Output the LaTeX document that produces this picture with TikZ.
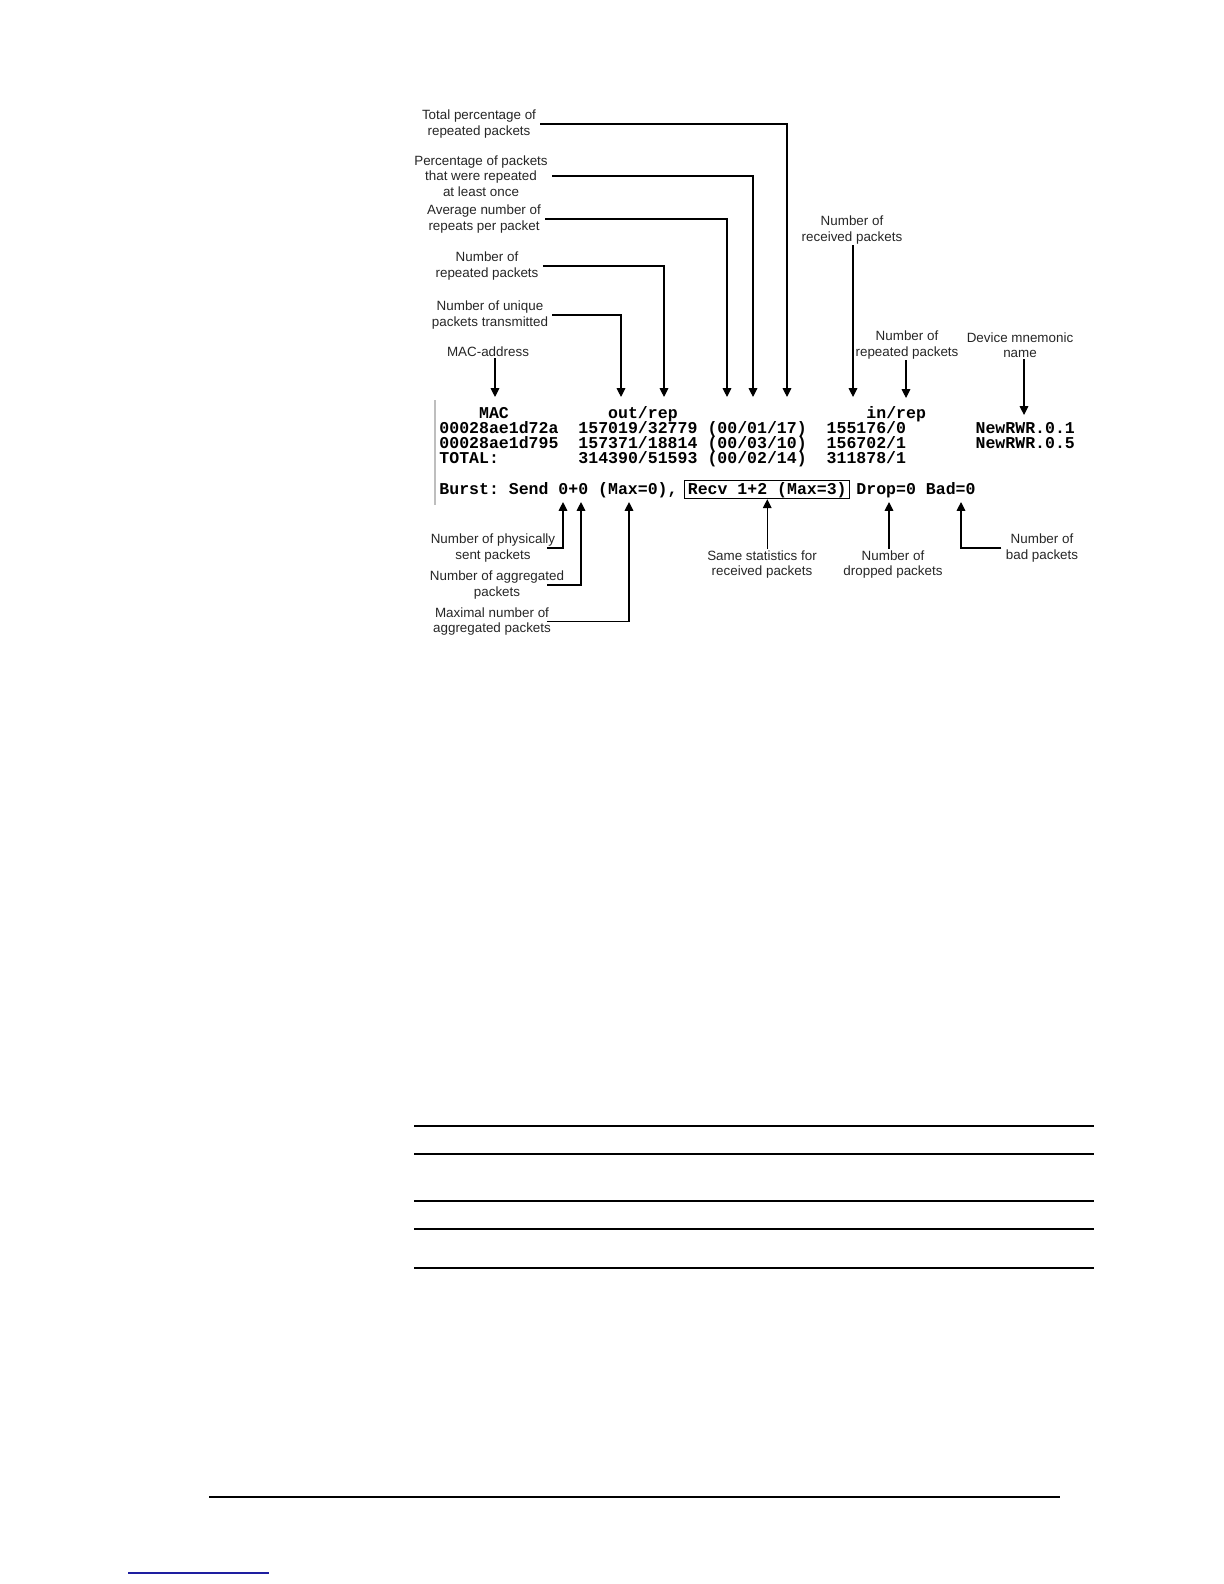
\documentclass[tikz,border=0pt]{standalone}
\usepackage{fontspec}
\setmainfont{Liberation Sans}
\newfontfamily\confont{Liberation Mono}
\usetikzlibrary{arrows.meta}
\definecolor{termgray}{RGB}{190,190,190}
\definecolor{linkblue}{RGB}{30,30,160}
\frenchspacing

\begin{document}
\begin{tikzpicture}[x=0.5pt, y=-0.5pt,
  lbl/.style={align=center, inner xsep=2pt, inner ysep=0.5pt, text=black!85,
              font=\fontsize{6.7}{7.75}\selectfont},
  con/.style={anchor=base west, inner sep=0pt,
              font=\confont\bfseries\fontsize{8.27}{9}\selectfont},
  arr/.style={-{Triangle[width=4.3pt,length=4.4pt]}, line width=0.6pt}
]
\useasboundingbox (0,0) rectangle (1224,1584);

% ── console output ─────────────
\draw[termgray, line width=0.6pt] (435,400) -- (435,505);
\node[con] (hMac) at ({439+4*9.93},418) {MAC};
\node[con] (hOut) at ({439+17*9.93},418) {out/rep};
\node[con] (hIn)  at ({439+43*9.93},418) {in/rep};

\node[con] (mac1) at (439,433) {00028ae1d72a};
\node[con] (out1) at ({439+14*9.93},433) {157019/32779};
\node[con] (pct1) at ({439+27*9.93},433) {(00/01/17)};
\node[con] (in1)  at ({439+39*9.93},433) {155176/0};
\node[con] (dev1) at ({439+54*9.93},433) {NewRWR.0.1};

\node[con] (mac2) at (439,448) {00028ae1d795};
\node[con] (out2) at ({439+14*9.93},448) {157371/18814};
\node[con] (pct2) at ({439+27*9.93},448) {(00/03/10)};
\node[con] (in2)  at ({439+39*9.93},448) {156702/1};
\node[con] (dev2) at ({439+54*9.93},448) {NewRWR.0.5};

\node[con] (tot3) at (439,463) {TOTAL:};
\node[con] (out3) at ({439+14*9.93},463) {314390/51593};
\node[con] (pct3) at ({439+27*9.93},463) {(00/02/14)};
\node[con] (in3)  at ({439+39*9.93},463) {311878/1};

\node[con] (send) at (439,494) {Burst: Send 0+0 (Max=0),};
\node[con, draw, line width=0.6pt, inner xsep=1.5pt, inner ysep=0.6pt] (recv)
  at ({439+25*9.93-3},494) {Recv 1+2 (Max=3)};
\node[con] (dropbad) at ({439+42*9.93},494) {Drop=0 Bad=0};

% ── labels above ─────────────
\node[lbl] (tot)  at (479,124) {Total percentage of\\repeated packets};
\node[lbl] (pct)  at (481,176) {Percentage of packets\\that were repeated\\at least once};
\node[lbl] (avg)  at (484,219) {Average number of\\repeats per packet};
\node[lbl] (nrep) at (487,266) {Number of\\repeated packets};
\node[lbl] (uniq) at (490,315) {Number of unique\\packets transmitted};
\node[lbl] (mac)  at (488,352) {MAC-address};
\node[lbl] (rec)  at (852,230) {Number of\\received packets};
\node[lbl] (rrep) at (907,345) {Number of\\repeated packets};
\node[lbl] (dev)  at (1020,345) {Device mnemonic\\name};

\coordinate (tMac)  at (495,397);
\coordinate (tUniq) at (621,397);
\coordinate (tNrep) at (664,397);
\coordinate (tAvg)  at (727,397);
\coordinate (tPct)  at (753,397);
\coordinate (tTot)  at (787,397);
\coordinate (tRec)  at (853,397);
\coordinate (tRrep) at (906,398);
\coordinate (tDev)  at (1024,415);

\draw[arr] (tot.east) -| (tTot);
\draw[arr] (pct.east) -| (tPct);
\draw[arr] (avg.east) -| (tAvg);
\draw[arr] (nrep.east) -| (tNrep);
\draw[arr] (uniq.east) -| (tUniq);
\draw[arr] (mac.south -| tMac) -- (tMac);
\draw[arr] (rec.south -| tRec) -- (tRec);
\draw[arr] (rrep.south -| tRrep) -- (tRrep);
\draw[arr] (dev.south -| tDev) -- (tDev);

% ── labels below ─────────────
\node[lbl] (phys) at (493,548) {Number of physically\\sent packets};
\node[lbl] (agg)  at (497,585) {Number of aggregated\\packets};
\node[lbl] (maxl) at (492,621.5) {Maximal number of\\aggregated packets};
\node[lbl] (same) at (762,564.5) {Same statistics for\\received packets};
\node[lbl] (drop) at (893,564.5) {Number of\\dropped packets};
\node[lbl] (bad)  at (1042,548) {Number of\\bad packets};

\coordinate (bx)    at (547,0);
\coordinate (tPhys) at (563,502);
\coordinate (tAgg)  at (581,502);
\coordinate (tMax)  at (629,502);
\coordinate (tDrop) at (889,502);
\coordinate (tBad)  at (961,502);

\draw[arr] (phys.east -| bx) -| (tPhys);
\draw[arr] (agg.east -| bx) -| (tAgg);
\draw[arr] (maxl.east -| bx) -| (tMax);
\draw[arr] (same.north -| recv.south) -- (recv.south);
\draw[arr] (drop.north -| tDrop) -- (tDrop);
\draw[arr] (bad.west) -| (tBad);

% ── table rules and footer ─────────────
\foreach \yy/\lw in {1126/1pt, 1154/0.6pt, 1201/1pt, 1229/0.6pt, 1268/0.6pt}
  \draw[line width=\lw] (414,\yy) -- (1094,\yy);
\draw[line width=0.6pt] (209,1497) -- (1060,1497);
\draw[linkblue, line width=0.6pt] (128,1573) -- (269,1573);
\end{tikzpicture}
\end{document}
